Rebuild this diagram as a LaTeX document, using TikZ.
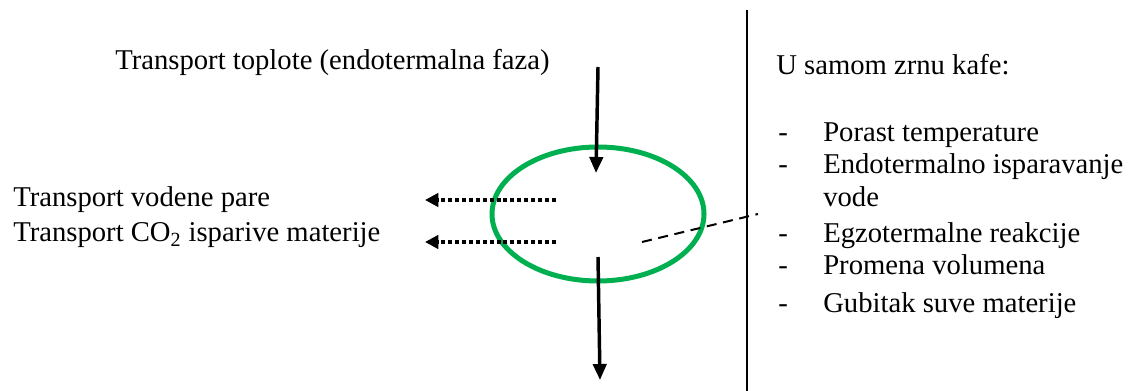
\documentclass[tikz,border=0pt]{standalone}
\usepackage{fontspec}
\setmainfont{Liberation Serif}
\usetikzlibrary{arrows.meta}
\begin{document}
\begin{tikzpicture}[x=0.75pt,y=-0.75pt,
  txt/.style={anchor=base west,inner sep=0pt,font=\fontsize{21.5}{25}\selectfont},
  solidarrow/.style={line width=2.6pt,-{Triangle[length=12pt,width=10pt]}},
  dotarrow/.style={line width=2.5pt,dash pattern=on 3pt off 2.2pt,-{Triangle[length=10pt,width=10pt]}},
  grain/.style={draw={rgb,255:red,0;green,176;blue,80},line width=3.75pt}]
\useasboundingbox (0,0) rectangle (1135,391);
\node[txt] (t1) at (115,70) {Transport toplote (endotermalna faza)};
\node[txt] (t2) at (13,207) {Transport vodene pare};
\node[txt] (t3) at (13,242) {Transport CO\textsubscript{2} isparive materije};
\node[txt] (h) at (776,75) {U samom zrnu kafe:};
\foreach \n/\y/\s in {a/142/Porast temperature,b/174/Endotermalno isparavanje,d/243/Egzotermalne reakcije,e/275/Promena volumena,f/313/Gubitak suve materije}{
  \node[txt] (d\n) at (778,\y) {-};
  \node[txt] (l\n) at (823,\y) {\s};
}
\node[txt] (lc) at (823,207) {vode};
\draw[grain] (598,214) ellipse [x radius=106,y radius=67];
\coordinate (vt) at (747,10);
\coordinate (vb) at (747,391);
\draw[line width=1.5pt] (vt) -- (vb);
\coordinate (a1s) at (598,67);
\coordinate (a1e) at (596,173);
\draw[solidarrow] (a1s) -- (a1e);
\coordinate (a2s) at (598,257);
\coordinate (a2e) at (600,380);
\draw[solidarrow] (a2s) -- (a2e);
\coordinate (p1s) at (556,200);
\coordinate (p1e) at (425,200);
\draw[dotarrow] (p1s) -- (p1e);
\coordinate (p2s) at (556,242);
\coordinate (p2e) at (425,242);
\draw[dotarrow] (p2s) -- (p2e);
\coordinate (ds) at (642,242);
\coordinate (de) at (758,214);
\draw[line width=1.5pt,dash pattern=on 7.5pt off 5pt] (ds) -- (de);
\end{tikzpicture}
\end{document}
